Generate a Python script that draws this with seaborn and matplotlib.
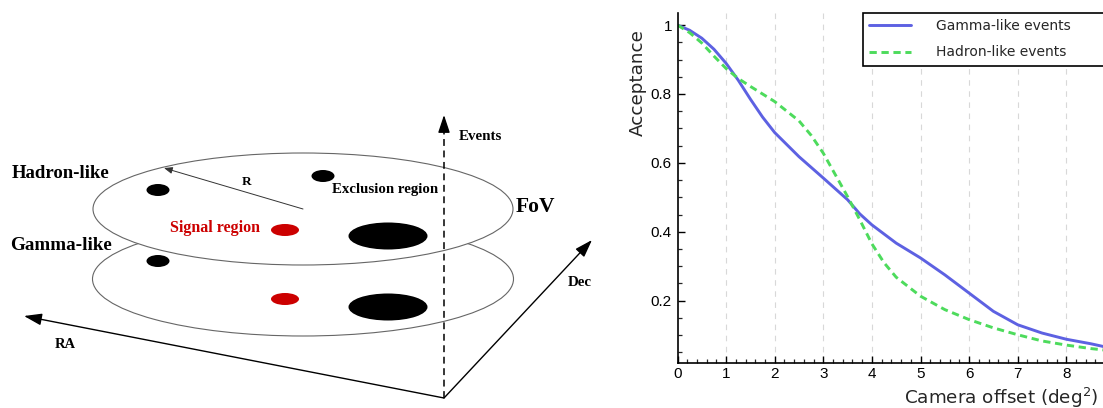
import numpy as np
import pandas as pd
import matplotlib
matplotlib.use("Agg")
import matplotlib.pyplot as plt
from matplotlib.patches import Ellipse
from matplotlib.ticker import MultipleLocator, FixedLocator, FixedFormatter
import seaborn as sns

# ---------------- data ----------------
gamma_x = [0, 0.25, 0.5, 0.75, 1.0, 1.25, 1.5, 1.75, 2.0, 2.5, 3.0, 3.5, 3.75, 4.0,
           4.5, 5.0, 5.5, 6.0, 6.5, 7.0, 7.5, 8.0, 8.5, 8.76]
gamma_y = [1.0, 0.985, 0.962, 0.93, 0.889, 0.84, 0.785, 0.733, 0.688, 0.618, 0.556,
           0.493, 0.452, 0.42, 0.367, 0.324, 0.275, 0.222, 0.169, 0.130, 0.106,
           0.088, 0.075, 0.067]
hadron_x = [0, 0.25, 0.5, 0.75, 1.0, 1.25, 1.5, 2.0, 2.5, 2.75, 3.0, 3.25, 3.5, 3.75,
            4.0, 4.25, 4.5, 5.0, 5.5, 6.0, 6.5, 7.0, 7.5, 8.0, 8.5, 8.76]
hadron_y = [1.0, 0.978, 0.948, 0.91, 0.874, 0.845, 0.822, 0.778, 0.722, 0.68, 0.628,
            0.565, 0.502, 0.435, 0.365, 0.31, 0.268, 0.213, 0.174, 0.145, 0.121,
            0.101, 0.083, 0.071, 0.061, 0.057]
series_labels = ["Gamma-like events", "Hadron-like events"]
x_ticks = [0, 1, 2, 3, 4, 5, 6, 7, 8]
y_ticks = [0.2, 0.4, 0.6, 0.8, 1.0]
y_tick_labels = ["0.2", "0.4", "0.6", "0.8", "1"]

diagram_texts = {
    "hadron": "Hadron-like", "gamma": "Gamma-like", "r": "R",
    "excl": "Exclusion region", "signal": "Signal region", "fov": "FoV",
    "events": "Events", "ra": "RA", "dec": "Dec",
}

# ---------------- figure ----------------
sns.set_style("ticks")
plt.rcParams["font.family"] = ["DejaVu Sans"]
W, H = 1103, 408
fig = plt.figure(figsize=(W / 100, H / 100), dpi=100)

# ---- left: schematic diagram in pixel coordinates ----
dax = fig.add_axes([0, 0, 1, 1], zorder=0)
dax.set_xlim(0, W)
dax.set_ylim(H, 0)
dax.set_axis_off()

ell_col = "#666666"
dax.add_patch(Ellipse((303, 279), 421, 114, facecolor="white", edgecolor=ell_col, lw=0.8, zorder=1))
dax.add_patch(Ellipse((303, 209), 420, 112, facecolor="white", edgecolor=ell_col, lw=0.8, zorder=2))
red = "#cc0000"
for (cx, cy, w, h, c) in [(158, 190, 23, 12, "black"), (323, 176, 23, 12, "black"),
                          (285, 230, 28, 12, red), (388, 236, 79, 27, "black"),
                          (158, 261, 23, 12, "black"), (285, 299, 28, 12, red),
                          (388, 307, 79, 27, "black")]:
    dax.add_patch(Ellipse((cx, cy), w, h, facecolor=c, edgecolor="none", zorder=3))

arrow_kw = dict(arrowstyle="-|>,head_length=0.9,head_width=0.3", color="black",
                lw=1.0, shrinkA=0, shrinkB=0, mutation_scale=12)
# Events axis (dashed)
dax.plot([444, 444], [398, 126], color="black", lw=1.1, ls=(0, (4.5, 3)), zorder=4)
dax.annotate("", xy=(444, 115), xytext=(444, 128), arrowprops=arrow_kw, zorder=4)
# RA and Dec axes
dax.annotate("", xy=(24, 316), xytext=(444, 398), arrowprops=arrow_kw, zorder=4)
dax.annotate("", xy=(592, 240), xytext=(444, 398), arrowprops=arrow_kw, zorder=4)
# R radius
dax.annotate("", xy=(164, 168), xytext=(303, 209),
             arrowprops=dict(arrowstyle="-|>,head_length=0.5,head_width=0.2", color="#333333",
                             lw=0.7, shrinkA=0, shrinkB=0, mutation_scale=10), zorder=4)

serif = ["Liberation Serif", "DejaVu Serif"]
def dtext(x, y, s, size, color="black"):
    dax.text(x, y, s, fontsize=size, color=color, family=serif, fontweight="bold",
             ha="center", va="center", zorder=5)

dtext(61, 174, diagram_texts["hadron"], 13.5)
dtext(61, 246, diagram_texts["gamma"], 13.8)
dtext(247, 182, diagram_texts["r"], 9.5)
dtext(385, 190, diagram_texts["excl"], 10.7)
dtext(215, 228, diagram_texts["signal"], 11.5, red)
dtext(535, 207, diagram_texts["fov"], 15.5)
dtext(480, 137, diagram_texts["events"], 10.8)
dtext(65, 345, diagram_texts["ra"], 10.5)
dtext(580, 283, diagram_texts["dec"], 10.8)

# ---- right: acceptance curves ----
x0px, x9px = 677.5, 677.5 + 9 * 48.6
ytop, ybot = 12.7, 363.0
ax = fig.add_axes([x0px / W, 1 - ybot / H, (x9px - x0px) / W, (ybot - ytop) / H], zorder=2)
ax.set_facecolor("none")

blue = "#5d61e2"
green = "#4ddb5c"
sns.lineplot(x=gamma_x, y=gamma_y, ax=ax, color=blue, lw=2.1, label=series_labels[0],
             estimator=None, sort=False)
sns.lineplot(x=hadron_x, y=hadron_y, ax=ax, color=green, lw=2.1, label=series_labels[1],
             estimator=None, sort=False)
ax.lines[1].set_linestyle((0, (2.5, 1.6)))

ax.set_xlim(0, 9)
ax.set_ylim(0.019, 1.036)

ax.xaxis.set_major_locator(FixedLocator(x_ticks))
ax.xaxis.set_minor_locator(MultipleLocator(0.2))
ax.yaxis.set_major_locator(FixedLocator(y_ticks))
ax.yaxis.set_major_formatter(FixedFormatter(y_tick_labels))
ax.yaxis.set_minor_locator(MultipleLocator(0.05))
ax.tick_params(which="major", direction="in", length=5, width=1.0, labelsize=11,
               colors="black", pad=3)
ax.tick_params(which="minor", direction="in", length=3, width=0.9)
ax.tick_params(axis="y", which="major", pad=4)
for lab in ax.get_xticklabels() + ax.get_yticklabels():
    lab.set_family(["Liberation Sans", "DejaVu Sans"])

for x in x_ticks[1:]:
    ax.axvline(x, color="#d8d8d8", lw=0.8, ls=(0, (5, 5)), zorder=0)

for side in ["top", "right"]:
    ax.spines[side].set_visible(False)
for side in ["left", "bottom"]:
    ax.spines[side].set_color("black")
    ax.spines[side].set_linewidth(1.2)

ax.set_ylabel("Acceptance", fontsize=13.2)
ax.yaxis.set_label_coords(-0.091, 0.80)
ax.yaxis.label.set_va("center")
ax.set_xlabel("Camera offset (deg$^2$)", fontsize=13.2)
ax.xaxis.set_label_coords((1098 - x0px) / (x9px - x0px), (ybot - 404) / (ybot - ytop))
ax.xaxis.label.set_ha("right")
ax.xaxis.label.set_va("baseline")

leg = ax.legend(loc="upper left",
                bbox_to_anchor=(863 / W, 1 - ytop / H - 0.2, (1125 - 863) / W, 0.2),
                bbox_transform=fig.transFigure, mode="expand", borderaxespad=0,
                fontsize=10, handlelength=3.0, handletextpad=1.8, borderpad=0.45,
                labelspacing=0.9, fancybox=False, framealpha=1, edgecolor="black")
leg.get_frame().set_linewidth(1.2)

fig.savefig("out.png", dpi=100)
